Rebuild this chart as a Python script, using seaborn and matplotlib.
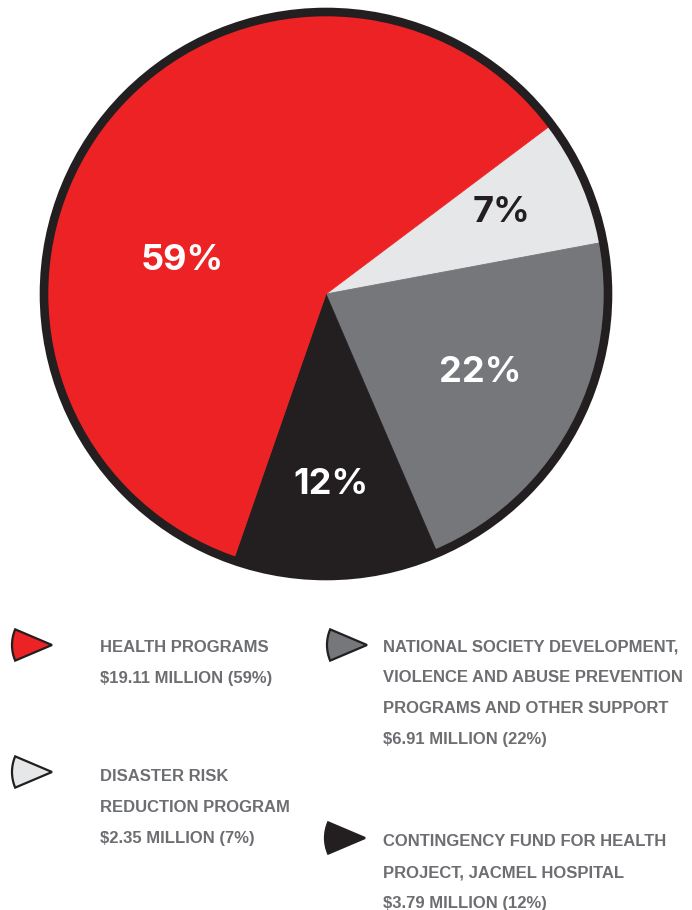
import numpy as np
import matplotlib
matplotlib.use("Agg")
import matplotlib.pyplot as plt
from matplotlib.patches import Circle, Wedge
import seaborn as sns

# values in millions, in clockwise order starting at the upper right
categories = ["Disaster Risk Reduction", "National Society Development",
              "Contingency Fund", "Health Programs"]
amounts = [2.35, 6.91, 3.79, 19.11]
pct_labels = ["7%", "22%", "12%", "59%"]
colors = ["#e6e7e8", "#76777b", "#231f20", "#ed2224"]
pct_colors = ["#231f20", "white", "white", "white"]

legend_lines = [
    ["DISASTER RISK", "REDUCTION PROGRAM", "$2.35 MILLION (7%)"],
    ["NATIONAL SOCIETY DEVELOPMENT,", "VIOLENCE AND ABUSE PREVENTION",
     "PROGRAMS AND OTHER SUPPORT", "$6.91 MILLION (22%)"],
    ["CONTINGENCY FUND FOR HEALTH", "PROJECT, JACMEL HOSPITAL",
     "$3.79 MILLION (12%)"],
    ["HEALTH PROGRAMS", "$19.11 MILLION (59%)"],
]

sns.set_theme(style="white")
plt.rcParams["font.family"] = ["Liberation Sans", "DejaVu Sans"]

W, H = 692, 910
fig = plt.figure(figsize=(W / 100, H / 100), dpi=100)
ax = fig.add_axes([0, 0, 1, 1])


def py(y):
    return H - y


cx, cy, r = 326, py(294), 280
wedges, _ = ax.pie(amounts, colors=colors, startangle=36.9, counterclock=False,
                   center=(cx, cy), radius=r, frame=True,
                   wedgeprops=dict(linewidth=0.6, antialiased=True))
for w, c in zip(wedges, colors):
    w.set_edgecolor(c)
ax.set_xlim(0, W)
ax.set_ylim(0, H)
ax.axis("off")
ax.add_patch(Circle((cx, cy), r + 2, fill=False, edgecolor="#231f20", linewidth=6.2))

# percentage labels inside slices
label_pos = [(502, 213), (480, 372), (331, 484), (182, 260)]
for (lx, ly), txt, tc in zip(label_pos, pct_labels, pct_colors):
    ax.text(lx, py(ly), txt, color=tc, fontsize=26, fontweight="bold",
            ha="center", va="center", family=["Inter", "DejaVu Sans"])

# legend
marker_apex = [(52, 772), (367, 645), (365, 838), (52, 645)]
text_start = [(100, 781), (383, 651), (383, 846), (100, 652)]
for (mx, my), (tx, ty), col, lines in zip(marker_apex, text_start, colors, legend_lines):
    ax.add_patch(Wedge((mx, py(my)), 40, 180 - 23, 180 + 23, facecolor=col,
                       edgecolor="#231f20", linewidth=1.6))
    for i, line in enumerate(lines):
        ax.text(tx, py(ty + 31 * i), line, color="#6d6e71", fontsize=12,
                fontweight="bold", ha="left", va="baseline")

fig.savefig("out.png", dpi=100)
